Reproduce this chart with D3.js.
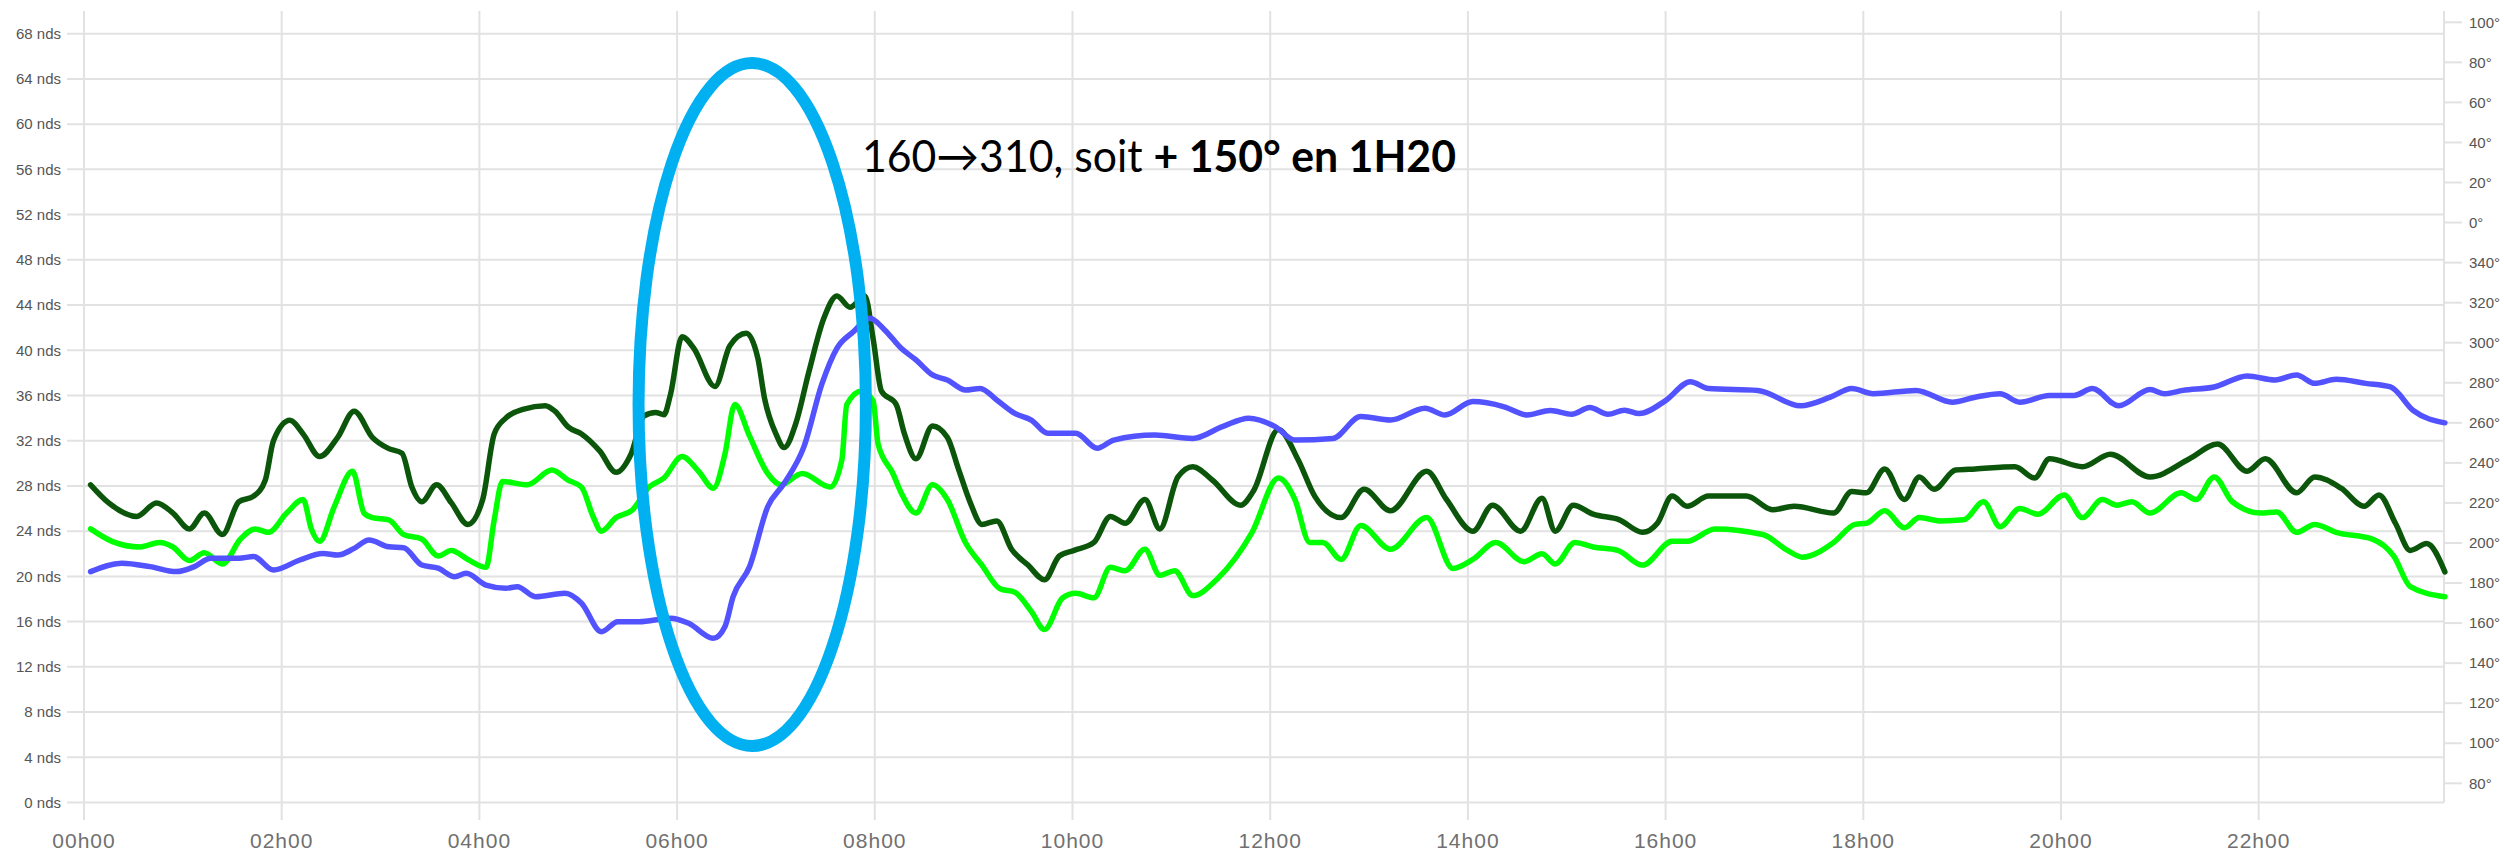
<html>
  <head>
    <script src="https://d3js.org/d3.v7.min.js"></script>
    <style>
      body { margin: 0; background: #fff; }
      svg { font-family: "Liberation Sans", Arial, sans-serif; }
      .grid line { stroke: #e2e2e2; stroke-width: 2; }
      .lbl { fill: #555; font-size: 15px; }
      .xlbl { fill: #707070; font-size: 21px; letter-spacing: 1px; }
      .line { fill: none; stroke-width: 5.5; stroke-linejoin: round; stroke-linecap: round; }
    </style>
  </head>
  <body>
    <div id="root"></div>
  </body>
  <script>
/* rafales (nds) */
var gustTimes = ["00:04","00:15","00:32","00:44","00:54","01:04","01:13","01:24","01:34","01:43","01:50","01:55","02:05","02:13","02:23","02:34","02:44","02:55","03:05","03:13","03:19","03:25","03:34","03:43","03:53","04:02","04:09","04:16","04:27","04:40","04:46","04:54","05:02","05:13","05:23","05:32","05:40","05:47","05:52","05:56","06:03","06:10","06:23","06:32","06:42","06:49","06:53","07:00","07:05","07:12","07:20","07:29","07:37","07:45","07:54","07:59","08:04","08:13","08:18","08:25","08:35","08:44","08:51","08:58","09:05","09:14","09:23","09:33","09:43","09:52","10:01","10:13","10:23","10:32","10:44","10:53","11:04","11:13","11:25","11:42","11:50","12:05","12:17","12:27","12:43","12:57","13:13","13:35","13:47","14:03","14:15","14:32","14:45","14:53","15:04","15:16","15:32","15:46","15:55","16:04","16:13","16:26","16:49","17:05","17:18","17:42","17:53","18:02","18:13","18:25","18:34","18:43","18:56","19:08","19:32","19:44","19:53","20:13","20:30","20:54","21:18","21:35","21:53","22:04","22:23","22:34","22:50","23:04","23:13","23:23","23:32","23:42","23:53"];
var gustKnots = [28.1,26.5,25.3,26.5,25.6,24.2,25.6,23.7,26.6,27.1,28.5,32.0,33.8,32.6,30.6,32.3,34.6,32.3,31.3,30.9,27.9,26.6,28.1,26.5,24.6,26.8,32.6,34.0,34.8,35.1,34.6,33.2,32.6,31.1,29.2,30.8,34.2,34.5,34.3,36.1,41.2,40.2,36.8,40.4,41.5,39.3,35.8,32.6,31.4,33.5,38.1,42.8,44.8,43.8,44.8,41.0,36.4,35.2,32.6,30.4,33.3,32.3,29.4,26.5,24.6,24.9,22.4,21.0,19.7,21.8,22.3,23.0,25.3,24.7,26.8,24.2,28.8,29.7,28.5,26.3,27.6,33.0,30.3,27.1,25.2,27.7,25.8,29.3,26.8,24.0,26.3,24.0,26.9,24.0,26.3,25.5,25.0,23.9,24.7,27.1,26.2,27.1,27.1,25.9,26.2,25.6,27.5,27.4,29.5,26.8,28.8,27.7,29.4,29.5,29.7,28.7,30.4,29.7,30.8,28.8,30.4,31.7,29.3,30.4,27.4,28.8,27.8,26.2,27.2,24.7,22.3,22.9,20.4];

/* vent moyen (nds) */
var avgTimes = ["00:04","00:17","00:34","00:46","00:54","01:04","01:13","01:24","01:35","01:44","01:52","02:03","02:13","02:18","02:23","02:32","02:43","02:50","02:55","03:05","03:14","03:25","03:35","03:43","03:53","04:04","04:09","04:14","04:29","04:44","04:54","05:02","05:09","05:14","05:23","05:33","05:43","05:52","06:03","06:13","06:22","06:29","06:35","06:44","06:55","07:03","07:16","07:33","07:40","07:43","07:52","07:59","08:02","08:11","08:16","08:25","08:35","08:44","08:55","09:05","09:16","09:25","09:35","09:43","09:54","10:02","10:13","10:23","10:32","10:44","10:53","11:02","11:13","11:28","11:49","12:05","12:15","12:24","12:32","12:43","12:55","13:13","13:35","13:51","14:03","14:17","14:34","14:45","14:53","15:05","15:16","15:31","15:46","16:04","16:13","16:30","16:59","17:14","17:23","17:42","17:55","18:02","18:13","18:25","18:34","18:47","19:01","19:13","19:23","19:35","19:46","20:02","20:13","20:25","20:34","20:43","20:54","21:13","21:22","21:33","21:44","22:01","22:11","22:23","22:34","22:47","23:09","23:22","23:32","23:53"];
var avgKnots = [24.2,23.1,22.6,23.0,22.6,21.4,22.1,21.1,23.3,24.2,23.9,25.6,26.8,24.2,23.1,26.2,29.3,25.6,25.2,25.0,23.7,23.3,21.8,22.3,21.5,20.8,25.0,28.4,28.1,29.4,28.5,27.9,25.3,24.0,25.2,25.9,27.9,28.7,30.6,29.3,27.8,30.8,35.2,32.4,29.1,28.1,29.1,27.9,30.3,35.2,36.4,35.5,31.7,29.1,27.4,25.6,28.1,26.8,23.0,21.0,18.9,18.6,16.9,15.3,18.1,18.5,18.1,20.8,20.5,22.4,20.1,20.5,18.3,19.8,23.9,28.7,26.8,23.0,23.0,21.5,24.5,22.4,25.2,20.7,21.5,23.0,21.3,22.0,21.1,23.0,22.6,22.3,21.0,23.1,23.1,24.2,23.7,22.3,21.7,23.0,24.6,24.7,25.8,24.3,25.2,24.9,25.0,26.6,24.4,26.0,25.5,27.2,25.2,26.8,26.3,26.6,25.6,27.4,26.8,28.8,26.6,25.6,25.7,23.9,24.6,23.9,23.3,21.8,19.1,18.2];

/* direction (degres, axe droit) */
var dirTimes = ["00:04","00:23","00:40","00:56","01:07","01:17","01:34","01:43","01:55","02:11","02:25","02:34","02:44","02:53","03:05","03:14","03:25","03:35","03:45","03:52","04:04","04:16","04:23","04:34","04:52","05:02","05:14","05:24","05:37","05:56","06:07","06:22","06:29","06:34","06:44","06:55","07:05","07:17","07:28","07:37","07:47","07:57","08:06","08:16","08:25","08:35","08:44","08:55","09:04","09:14","09:25","09:35","09:45","10:02","10:15","10:25","10:50","11:13","11:31","11:47","12:03","12:15","12:38","12:55","13:13","13:34","13:46","14:03","14:22","14:36","14:50","15:03","15:14","15:25","15:35","15:44","16:00","16:15","16:26","16:56","17:22","17:40","17:53","18:06","18:32","18:54","19:08","19:23","19:35","19:53","20:08","20:19","20:35","20:54","21:03","21:14","21:33","21:53","22:10","22:23","22:34","22:47","23:05","23:20","23:34","23:53"];
var dirDeg = [185.7,189.9,188.2,185.7,188.2,192.4,192.4,193.2,186.5,191.5,194.8,194.0,197.3,201.5,198.1,197.6,189.0,187.4,183.2,184.9,179.0,177.4,178.2,173.2,174.9,169.9,155.7,160.7,160.7,162.4,159.9,152.4,158.2,173.2,188.2,218.1,229.8,248.1,279.7,297.2,305.5,312.2,306.4,297.2,291.4,283.9,281.4,276.4,277.2,271.4,264.7,261.4,254.8,254.8,247.3,251.4,253.9,252.2,258.1,262.3,258.1,251.4,252.2,263.1,261.4,267.3,263.9,270.6,268.0,263.9,266.2,264.3,267.7,264.3,266.3,264.6,271.1,280.5,277.1,276.2,268.5,272.8,277.1,274.5,276.2,270.3,272.8,274.5,270.3,273.7,273.7,277.1,268.5,276.6,274.5,276.2,277.9,283.4,281.4,283.9,279.7,281.7,279.7,277.9,266.0,260.0];

/* ticks */
var hourTicks = [0,2,4,6,8,10,12,14,16,18,20,22];
var knotTicks = d3.range(0, 69, 4);
var degTicks = d3.range(80, 461, 20);

/* annotation */
var noteNormal = "160\u2192310, soit ";
var noteBold = "+ 150\u00b0 en 1H20";

var W = 2504, H = 854;

function toHours(s) {
  var p = s.split(":");
  return +p[0] + (+p[1]) / 60;
}
function zip(times, vals) {
  return times.map(function(t, i) { return {t: toHours(t), v: vals[i]}; });
}

var x = d3.scaleLinear().domain([0, 24]).range([84, 84 + 24 * 98.85]);
var yL = d3.scaleLinear().domain([0, 68]).range([802.5, 33.7]);
var yR = d3.scaleLinear().domain([80, 460]).range([783.3, 22.3]);
var xRight = 2444;

var svg = d3.select("#root").append("svg")
  .attr("width", W).attr("height", H);

/* grille horizontale + graduations gauche */
var grid = svg.append("g").attr("class", "grid");
grid.selectAll(".h").data(knotTicks).enter().append("line")
  .attr("x1", 67).attr("x2", xRight)
  .attr("y1", d => yL(d)).attr("y2", d => yL(d));

/* grille verticale */
grid.selectAll(".v").data(hourTicks).enter().append("line")
  .attr("x1", d => x(d)).attr("x2", d => x(d))
  .attr("y1", 11).attr("y2", 820);

/* axe droit */
grid.append("line")
  .attr("x1", xRight).attr("x2", xRight).attr("y1", 11).attr("y2", yL(0));
grid.selectAll(".r").data(degTicks).enter().append("line")
  .attr("x1", xRight).attr("x2", xRight + 18)
  .attr("y1", d => yR(d)).attr("y2", d => yR(d));

svg.append("g").selectAll("text").data(knotTicks).enter().append("text")
  .attr("class", "lbl")
  .attr("x", 61).attr("y", d => yL(d)).attr("dy", "0.35em")
  .attr("text-anchor", "end")
  .text(d => d + " nds");

svg.append("g").selectAll("text").data(degTicks).enter().append("text")
  .attr("class", "lbl")
  .attr("x", xRight + 25).attr("y", d => yR(d)).attr("dy", "0.35em")
  .text(d => (d % 360) + "\u00b0");

svg.append("g").selectAll("text").data(hourTicks).enter().append("text")
  .attr("class", "xlbl")
  .attr("x", d => x(d)).attr("y", 848)
  .attr("text-anchor", "middle")
  .text(d => d3.format("02d")(d) + "h00");

/* courbes */
var lineL = d3.line().curve(d3.curveMonotoneX).x(d => x(d.t)).y(d => yL(d.v));
var lineR = d3.line().curve(d3.curveMonotoneX).x(d => x(d.t)).y(d => yR(d.v));

svg.append("path").attr("class", "line")
  .attr("d", lineL(zip(gustTimes, gustKnots))).style("stroke", "#0b560b");
svg.append("path").attr("class", "line")
  .attr("d", lineL(zip(avgTimes, avgKnots))).style("stroke", "#00ff00");
svg.append("path").attr("class", "line")
  .attr("d", lineR(zip(dirTimes, dirDeg))).style("stroke", "#5252ff");

/* ellipse + texte */
svg.append("ellipse")
  .attr("cx", x(6.76)).attr("cy", yL(35.2))
  .attr("rx", x(6.76 + 1.15) - x(6.76)).attr("ry", yL(5.0) - yL(35.2))
  .attr("fill", "none").attr("stroke", "#00b0f0").attr("stroke-width", 12);

var note = svg.append("text")
  .attr("x", x(7.87)).attr("y", yL(55.8))
  .style("font-family", "Lato, 'Open Sans', sans-serif")
  .style("font-size", "44px").attr("fill", "#000");
note.append("tspan").text(noteNormal);
note.append("tspan").attr("font-weight", "bold").text(noteBold);
note.attr("textLength", 594).attr("lengthAdjust", "spacingAndGlyphs");
  </script>
</html>
